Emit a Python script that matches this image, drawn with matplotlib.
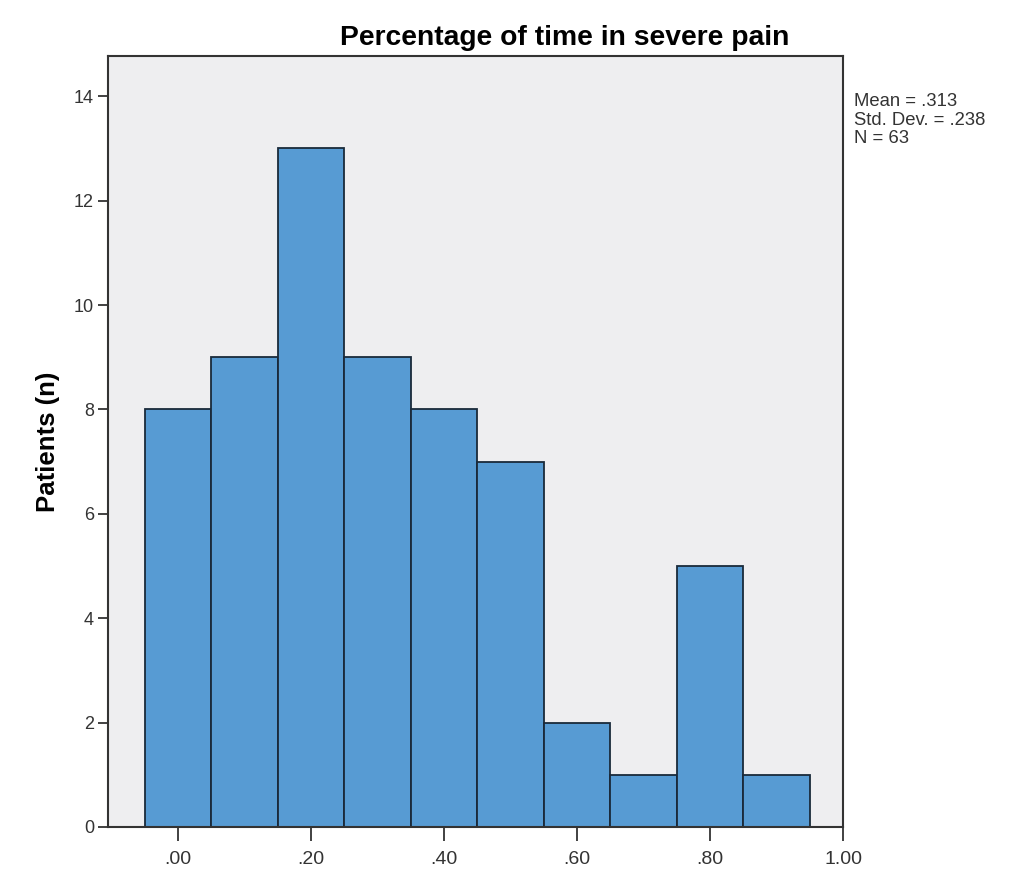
import matplotlib.pyplot as plt

plt.rcParams['font.family'] = ['Liberation Sans', 'DejaVu Sans']

bin_centers = [0.0, 0.1, 0.2, 0.3, 0.4, 0.5, 0.6, 0.7, 0.8, 0.9]
counts = [8, 9, 13, 9, 8, 7, 2, 1, 5, 1]
x_ticks = [0.0, 0.2, 0.4, 0.6, 0.8, 1.0]
x_tick_labels = [".00", ".20", ".40", ".60", ".80", "1.00"]
y_ticks = [0, 2, 4, 6, 8, 10, 12, 14]
stats_text = "Mean = .313\nStd. Dev. = .238\nN = 63"

fig = plt.figure(figsize=(10.17, 8.88), dpi=100)
ax = fig.add_axes([0.1062, 0.0687, 0.7228, 0.8682])
ax.set_facecolor("#eeeef0")

ax.bar(bin_centers, counts, width=0.1, color="#579bd3", edgecolor="#1a2a3a", linewidth=1.3)

ax.set_xlim(-0.1055, 1.0)
ax.set_ylim(0, 14.77)
ax.set_xticks(x_ticks)
ax.set_xticklabels(x_tick_labels)
ax.set_yticks(y_ticks)
ax.tick_params(axis="both", direction="out", width=1.3, colors="#333333",
               top=False, right=False)
ax.tick_params(axis="x", length=10, pad=7, labelsize=14)
ax.tick_params(axis="y", length=7, pad=3, labelsize=13)
for s in ax.spines.values():
    s.set_linewidth(1.5)
    s.set_color("#333333")

ax.set_ylabel("Patients (n)", fontsize=18.5, fontweight="bold", labelpad=10)
fig.text(0.5555, 0.957, "Percentage of time in severe pain", ha="center", va="center",
         fontsize=20.3, fontweight="bold")
fig.text(0.840, 0.895, stats_text, ha="left", va="top", fontsize=13.3, color="#333333",
         linespacing=1.12)

fig.savefig("out.png", dpi=100)
